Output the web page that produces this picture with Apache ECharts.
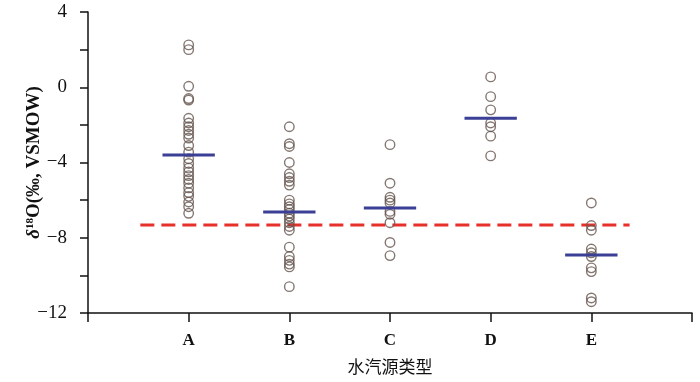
<!DOCTYPE html>
<html>
<head>
<meta charset="utf-8">
<script src="https://cdn.jsdelivr.net/npm/echarts@6/dist/echarts.min.js"></script>
<style>
  html, body { margin: 0; padding: 0; background: #fff; }
  #chart { width: 700px; height: 382px; }
</style>
</head>
<body>
<div id="chart"></div>
<script>
// 水汽源类型
var categories = ["A", "B", "C", "D", "E"];
// δ18O 样品值
var valuesA = [2.25, 2.0, 0.05, -0.6, -0.68, -1.65, -1.9, -2.1, -2.3, -2.5, -2.7, -3.1, -3.45, -3.8, -4.05, -4.3, -4.5, -4.7, -4.9, -5.1, -5.35, -5.6, -5.8, -6.1, -6.35, -6.7];
var valuesB = [-2.1, -3.0, -3.15, -4.0, -4.6, -4.8, -5.0, -5.2, -6.0, -6.2, -6.35, -6.5, -6.7, -6.85, -7.0, -7.2, -7.4, -7.6, -8.5, -9.0, -9.2, -9.4, -9.55, -10.6];
var valuesC = [-3.05, -5.1, -5.85, -6.0, -6.15, -6.6, -6.75, -7.2, -8.25, -8.95];
var valuesD = [0.55, -0.5, -1.2, -1.9, -2.1, -2.6, -3.65];
var valuesE = [-6.15, -7.35, -7.6, -8.6, -8.8, -9.0, -9.6, -9.8, -11.2, -11.4];
// 均值 (蓝线)
var means = [-3.6, -6.63, -6.42, -1.65, -8.92];
// 参考线 (红色虚线)
var refValue = -7.32;
var refStart = 0.52, refEnd = 5.38;
var yTicks = [4, 0, -4, -8, -12];

var chart = echarts.init(document.getElementById("chart"));

var groups = [valuesA, valuesB, valuesC, valuesD, valuesE];
var scatterData = [];
groups.forEach(function (arr, i) {
  arr.forEach(function (v) {
    scatterData.push([i + 1, v]);
  });
});
var meanData = means.map(function (m, i) {
  return [i + 1, m];
});

var serif = "Liberation Serif";

chart.setOption({
  animation: false,
  grid: {
    left: 88,
    right: 8,
    top: 12,
    bottom: 69,
    outerBoundsMode: "none"
  },
  xAxis: {
    type: "value",
    min: 0,
    max: 6,
    interval: 1,
    name: "水汽源类型",
    nameLocation: "middle",
    nameGap: 45,
    nameMoveOverlap: false,
    nameTextStyle: {
      fontFamily: "Noto Sans CJK SC",
      fontSize: 17,
      color: "#111"
    },
    splitLine: { show: false },
    axisLine: {
      onZero: false,
      lineStyle: { color: "#111", width: 1.5 }
    },
    axisTick: {
      length: 9,
      lineStyle: { color: "#111", width: 1.5 }
    },
    axisLabel: {
      margin: 19,
      fontFamily: serif,
      fontWeight: "bold",
      fontSize: 17,
      color: "#111",
      formatter: function (v) {
        return categories[v - 1] || "";
      }
    }
  },
  yAxis: {
    type: "value",
    min: -12,
    max: 4,
    interval: 2,
    name: "{d|δ}{s|18}{n|O(‰, VSMOW)}",
    nameLocation: "middle",
    nameGap: 44,
    nameMoveOverlap: false,
    nameTextStyle: {
      color: "#111",
      rich: {
        d: { fontFamily: serif, fontStyle: "italic", fontWeight: "bold", fontSize: 19, color: "#111" },
        s: { fontFamily: serif, fontWeight: "bold", fontSize: 11, verticalAlign: "top", color: "#111" },
        n: { fontFamily: serif, fontWeight: "bold", fontSize: 19, color: "#111" }
      }
    },
    splitLine: { show: false },
    axisLine: {
      onZero: false,
      lineStyle: { color: "#111", width: 1.5 }
    },
    axisTick: {
      length: 8,
      lineStyle: { color: "#111", width: 1.5 }
    },
    axisLabel: {
      margin: 21,
      fontFamily: serif,
      fontSize: 19,
      color: "#111",
      formatter: function (v) {
        if (yTicks.indexOf(v) < 0) return "";
        return String(v).replace("-", "\u2212");
      }
    }
  },
  series: [
    {
      name: "样品",
      type: "scatter",
      symbol: "circle",
      symbolSize: 9.5,
      itemStyle: {
        color: "rgba(255,255,255,0)",
        borderColor: "#65554f",
        borderWidth: 1.4
      },
      data: scatterData,
      z: 3
    },
    {
      name: "参考线",
      type: "line",
      symbol: "none",
      lineStyle: {
        color: "#e8302b",
        width: 3,
        type: [14, 7]
      },
      data: [[refStart, refValue], [refEnd, refValue]],
      z: 2
    },
    {
      name: "均值",
      type: "custom",
      renderItem: function (params, api) {
        var x = api.value(0), y = api.value(1);
        var p1 = api.coord([x - 0.26, y]);
        var p2 = api.coord([x + 0.26, y]);
        return {
          type: "line",
          shape: { x1: p1[0], y1: p1[1], x2: p2[0], y2: p2[1] },
          style: { stroke: "#3b3f95", lineWidth: 3 }
        };
      },
      data: meanData,
      z: 4
    }
  ]
});
</script>
</body>
</html>
